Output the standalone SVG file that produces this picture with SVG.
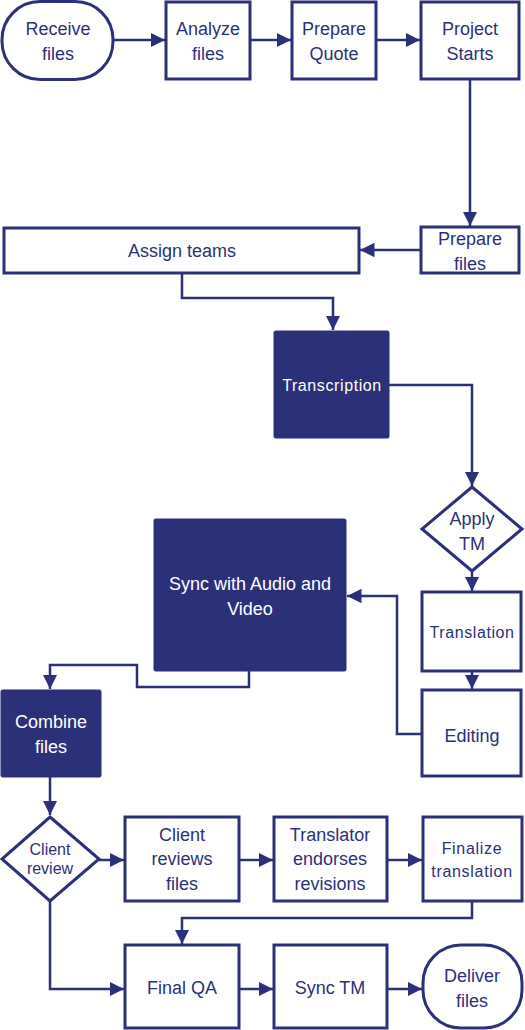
<svg xmlns="http://www.w3.org/2000/svg" width="525" height="1030" viewBox="0 0 525 1030">
<style>
.n{fill:#fff;stroke:#2B3178;stroke-width:3}
.d{fill:#2B3178;stroke:#2B3178;stroke-width:1}
.t{font-family:"Liberation Sans",Arial,sans-serif;font-size:18px;fill:#2B3178;text-anchor:middle}
.w{fill:#fff}
.c{fill:none;stroke:#2B3178;stroke-width:2.5}
</style>
<defs>
<marker id="ah" viewBox="0 0 10 10" refX="10" refY="5" markerWidth="5.8" markerHeight="5.8" markerUnits="strokeWidth" orient="auto">
<path d="M0,0 L10,5 L0,10 Z" fill="#2B3178"/>
</marker>
</defs>
<rect width="525" height="1030" fill="#fff"/>
<g id="connectors">
<path class="c" marker-end="url(#ah)" d="M113,40 H165"/>
<path class="c" marker-end="url(#ah)" d="M250,40 H291"/>
<path class="c" marker-end="url(#ah)" d="M376,40 H420"/>
<path class="c" marker-end="url(#ah)" d="M470,79 V226"/>
<path class="c" marker-end="url(#ah)" d="M421,250 H360"/>
<path class="c" marker-end="url(#ah)" d="M182,273 V298 H333 V330"/>
<path class="c" marker-end="url(#ah)" d="M389,385 H472 V486"/>
<path class="c" marker-end="url(#ah)" d="M472,571 V591"/>
<path class="c" marker-end="url(#ah)" d="M472,671 V689"/>
<path class="c" marker-end="url(#ah)" d="M422,734 H397 V596 H347"/>
<path class="c" marker-end="url(#ah)" d="M249,671 V687 H137 V665 H50 V689"/>
<path class="c" marker-end="url(#ah)" d="M50,777 V815"/>
<path class="c" marker-end="url(#ah)" d="M99,860 H124"/>
<path class="c" marker-end="url(#ah)" d="M239,860 H273"/>
<path class="c" marker-end="url(#ah)" d="M387,860 H422"/>
<path class="c" marker-end="url(#ah)" d="M472,901 V918 H182 V944"/>
<path class="c" marker-end="url(#ah)" d="M50,901 V989 H124"/>
<path class="c" marker-end="url(#ah)" d="M239,989 H273"/>
<path class="c" marker-end="url(#ah)" d="M387,989 H422"/>
</g>
<g id="receive"><rect class="n" x="2" y="1.5" width="111" height="78" rx="38"/><text class="t" x="58" y="35">Receive</text><text class="t" x="58" y="60">files</text></g>
<g id="analyze"><rect class="n" x="166" y="2" width="84" height="77"/><text class="t" x="208" y="35">Analyze</text><text class="t" x="208" y="60">files</text></g>
<g id="quote"><rect class="n" x="292" y="2" width="84" height="77"/><text class="t" x="334" y="35">Prepare</text><text class="t" x="334" y="60">Quote</text></g>
<g id="starts"><rect class="n" x="421" y="2" width="98" height="77"/><text class="t" x="470" y="35">Project</text><text class="t" x="470" y="60">Starts</text></g>
<g id="prepfiles"><rect class="n" x="421" y="227" width="98" height="46"/><text class="t" x="470" y="245">Prepare</text><text class="t" x="470" y="270">files</text></g>
<g id="assign"><rect class="n" x="4" y="228" width="355" height="45"/><text class="t" x="182" y="257">Assign teams</text></g>
<g id="transcription"><rect class="d" x="274" y="331" width="115" height="107" rx="1.5"/><text class="t w" x="332" y="391" style="font-size:16px;letter-spacing:0.6px">Transcription</text></g>
<g id="applytm"><path class="n" d="M472,487 L522,529 L472,571 L422,529 Z"/><text class="t" x="472" y="525">Apply</text><text class="t" x="472" y="550">TM</text></g>
<g id="translation"><rect class="n" x="422" y="592" width="99" height="79"/><text class="t" x="472" y="638" style="font-size:16px;letter-spacing:0.6px">Translation</text></g>
<g id="editing"><rect class="n" x="422" y="690" width="99" height="86"/><text class="t" x="472" y="742">Editing</text></g>
<g id="sync"><rect class="d" x="154" y="519" width="192" height="152" rx="1.5"/><text class="t w" x="250" y="590">Sync with Audio and</text><text class="t w" x="250" y="615">Video</text></g>
<g id="combine"><rect class="d" x="1" y="690" width="100" height="87" rx="1.5"/><text class="t w" x="51" y="728">Combine</text><text class="t w" x="51" y="753">files</text></g>
<g id="clientreview"><path class="n" d="M50,817 L99,859 L50,901 L2,859 Z"/><text class="t" x="50" y="855" style="font-size:16px">Client</text><text class="t" x="50" y="874" style="font-size:16px">review</text></g>
<g id="clientreviews"><rect class="n" x="125" y="817" width="114" height="84"/><text class="t" x="182" y="841">Client</text><text class="t" x="182" y="865">reviews</text><text class="t" x="182" y="890">files</text></g>
<g id="endorses"><rect class="n" x="274" y="817" width="113" height="84"/><text class="t" x="330" y="841">Translator</text><text class="t" x="330" y="865">endorses</text><text class="t" x="330" y="890">revisions</text></g>
<g id="finalize"><rect class="n" x="423" y="817" width="99" height="84"/><text class="t" x="472" y="854" style="font-size:16px;letter-spacing:0.7px">Finalize</text><text class="t" x="472" y="877" style="font-size:16px;letter-spacing:0.7px">translation</text></g>
<g id="finalqa"><rect class="n" x="125" y="945" width="114" height="83"/><text class="t" x="182" y="994">Final QA</text></g>
<g id="synctm"><rect class="n" x="274" y="945" width="113" height="83"/><text class="t" x="330" y="994">Sync TM</text></g>
<g id="deliver"><rect class="n" x="423" y="945" width="99" height="83" rx="38"/><text class="t" x="472" y="982">Deliver</text><text class="t" x="472" y="1007">files</text></g>
</svg>
